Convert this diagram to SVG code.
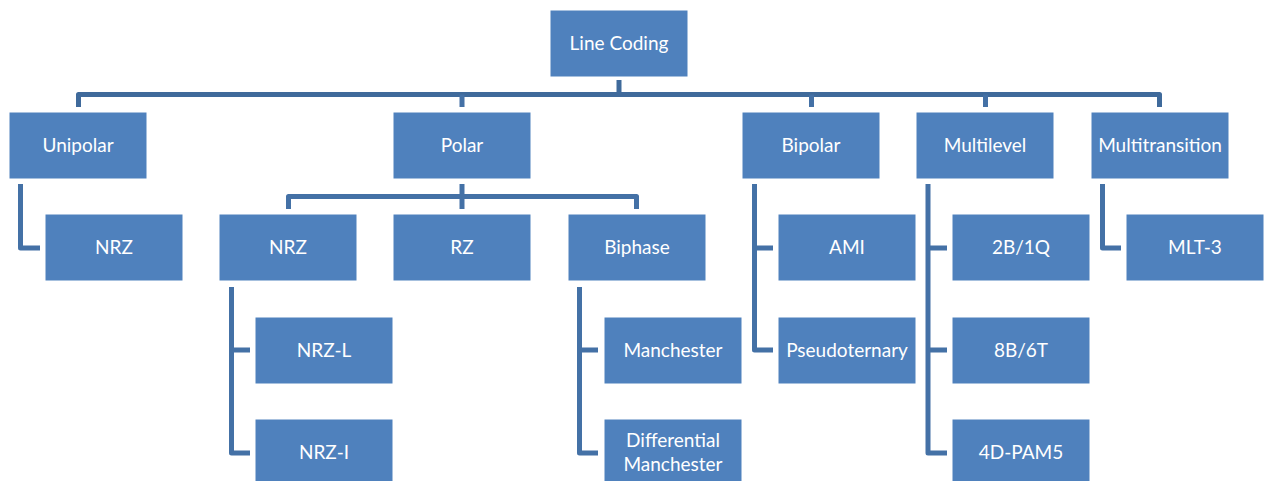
<svg xmlns="http://www.w3.org/2000/svg" width="1267" height="481" viewBox="0 0 1267 481">
  <style>
    .box rect { fill: #4F81BD; stroke: #FFFFFF; stroke-width: 1; }
    .box text { fill: #FFFFFF; font-family: Lato, "Liberation Sans", sans-serif; font-size: 19px; text-anchor: middle; }
    .conn path { fill: none; stroke: #4471A6; stroke-width: 5; stroke-linejoin: round; stroke-linecap: butt; }
    .conn path.trunk { stroke: #3F6A9B; }
  </style>
  <rect width="1267" height="481" fill="#FFFFFF"/>

  <!-- connectors -->
  <g id="connectors" class="conn">
    <!-- root to first level -->
    <path class="trunk" d="M619,80 V94.5"/>
    <path class="trunk" d="M78.5,107 V94.5 H1159.5 V107"/>
    <path d="M462,94.5 V107 M811.5,94.5 V107 M985.5,94.5 V107"/>
    <!-- Polar to its children -->
    <path d="M462,184 V209"/>
    <path d="M288.5,209 V196.5 H636.5 V209"/>
    <!-- Unipolar -> NRZ -->
    <path d="M20.5,184 V248 H40"/>
    <!-- NRZ -> NRZ-L, NRZ-I -->
    <path d="M231.5,287 V453 H250 M231.5,350 H250"/>
    <!-- Biphase -> Manchester, Differential Manchester -->
    <path d="M579.5,287 V453 H598 M579.5,350 H598"/>
    <!-- Bipolar -> AMI, Pseudoternary -->
    <path d="M754.5,184 V350 H773 M754.5,248 H773"/>
    <!-- Multilevel -> 2B/1Q, 8B/6T, 4D-PAM5 -->
    <path d="M928,184 V453 H947 M928,248 H947 M928,350 H947"/>
    <!-- Multitransition -> MLT-3 -->
    <path d="M1102.5,184 V248 H1121"/>
  </g>

  <!-- root -->
  <g id="line-coding" class="box"><rect x="550" y="10" width="138" height="67"/><text x="619" y="50">Line Coding</text></g>

  <!-- first level -->
  <g id="unipolar" class="box"><rect x="9" y="112" width="138" height="67"/><text x="78" y="152">Unipolar</text></g>
  <g id="polar" class="box"><rect x="393" y="112" width="138" height="67"/><text x="462" y="152">Polar</text></g>
  <g id="bipolar" class="box"><rect x="742" y="112" width="138" height="67"/><text x="811" y="152">Bipolar</text></g>
  <g id="multilevel" class="box"><rect x="916" y="112" width="138" height="67"/><text x="985" y="152">Multilevel</text></g>
  <g id="multitransition" class="box"><rect x="1091" y="112" width="138" height="67"/><text x="1160" y="152">Multitransition</text></g>

  <!-- second level -->
  <g id="unipolar-nrz" class="box"><rect x="45" y="214" width="138" height="67"/><text x="114" y="254">NRZ</text></g>
  <g id="polar-nrz" class="box"><rect x="219" y="214" width="138" height="67"/><text x="288" y="254">NRZ</text></g>
  <g id="rz" class="box"><rect x="393" y="214" width="138" height="67"/><text x="462" y="254">RZ</text></g>
  <g id="biphase" class="box"><rect x="568" y="214" width="138" height="67"/><text x="637" y="254">Biphase</text></g>
  <g id="ami" class="box"><rect x="778" y="214" width="138" height="67"/><text x="847" y="254">AMI</text></g>
  <g id="b2q1" class="box"><rect x="952" y="214" width="138" height="67"/><text x="1021" y="254">2B/1Q</text></g>
  <g id="mlt3" class="box"><rect x="1126" y="214" width="138" height="67"/><text x="1195" y="254">MLT-3</text></g>

  <!-- third level -->
  <g id="nrz-l" class="box"><rect x="255" y="317" width="138" height="67"/><text x="324" y="357">NRZ-L</text></g>
  <g id="manchester" class="box"><rect x="604" y="317" width="138" height="67"/><text x="673" y="357">Manchester</text></g>
  <g id="pseudoternary" class="box"><rect x="778" y="317" width="138" height="67"/><text x="847" y="357">Pseudoternary</text></g>
  <g id="b8t6" class="box"><rect x="952" y="317" width="138" height="67"/><text x="1021" y="357">8B/6T</text></g>

  <!-- fourth level -->
  <g id="nrz-i" class="box"><rect x="255" y="419" width="138" height="67"/><text x="324" y="459">NRZ-I</text></g>
  <g id="differential-manchester" class="box"><rect x="604" y="419" width="138" height="67"/><text x="673" y="447">Differential</text><text x="673" y="471">Manchester</text></g>
  <g id="pam5" class="box"><rect x="952" y="419" width="138" height="67"/><text x="1021" y="459">4D-PAM5</text></g>
</svg>
